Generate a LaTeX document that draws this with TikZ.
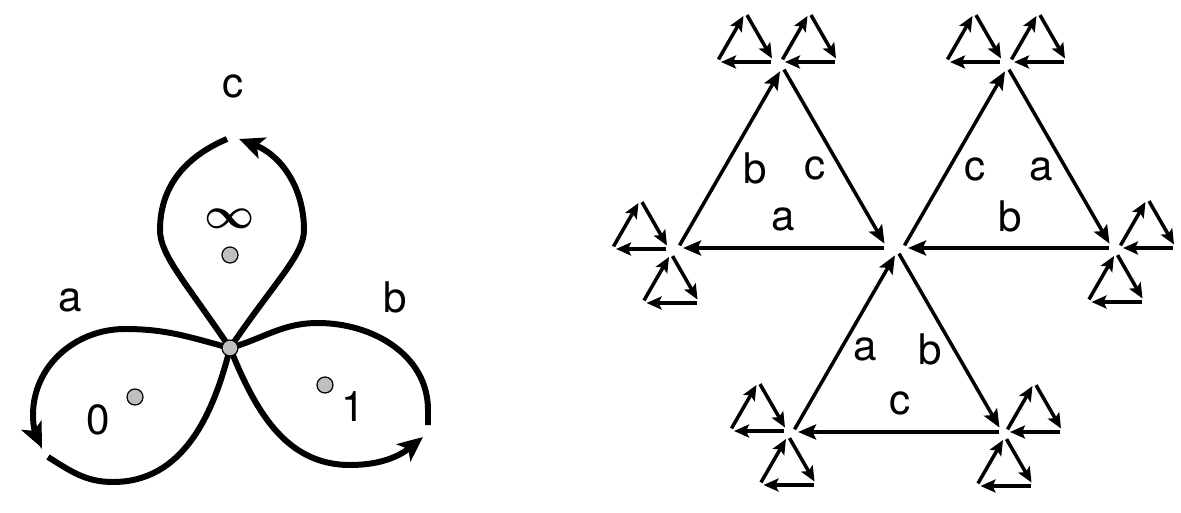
\documentclass[tikz,border=0pt]{standalone}
\usepackage{fontspec}
\usepackage{bm}
\setmainfont{TeX Gyre Heros}
\usetikzlibrary{arrows.meta}

\tikzset{
  lbl/.style={font=\fontsize{24}{28}\selectfont, inner sep=0pt},
  loopline/.style={line width=3.4pt},
  looparrow/.style={loopline, -{Stealth[length=0.5cm,width=0.44cm,inset=0.12cm]}},
  puncture/.style={circle, draw, fill=black!25, line width=0.7pt, minimum size=0.32cm, inner sep=0pt},
  bigarr/.style={line width=2pt, -{Stealth[length=0.36cm,width=0.3cm,inset=0.07cm]}, shorten <=0.06cm, shorten >=0.1cm},
  smallarr/.style={line width=2pt, -{Stealth[length=0.3cm,width=0.26cm,inset=0.06cm]}, shorten <=0.06cm, shorten >=0.08cm}
}

\begin{document}
\begin{tikzpicture}
\useasboundingbox (0,0) rectangle (23.62,10.24);

% loops round 0, 1 and infinity
\coordinate (O) at (4.60,3.28);
\draw[looparrow] (O) to[out=56,in=-90,out distance=1.6cm,in distance=0.5cm] (6.08,5.64) to[out=90,in=-21] (4.78,7.46);
\draw[loopline] (O) to[out=124,in=-90,out distance=1.6cm,in distance=0.5cm] (3.20,5.64) to[out=90,in=203] (4.54,7.46);
\draw[looparrow] (O) to[out=165,in=0] (2.50,3.66) to[out=180,in=90] (0.66,1.94) to[out=-90,in=115] (0.84,1.28);
\draw[loopline] (O) to[out=-104,in=0] (2.26,0.60) to[out=180,in=-32] (0.96,1.10);
\draw[loopline] (O) to[out=16,in=180] (6.36,3.78) to[out=0,in=90] (8.56,2.04) -- (8.56,1.74);
\draw[looparrow] (O) to[out=-68,in=180] (7.00,0.94) to[out=0,in=219] (8.46,1.50);

\node[puncture] (base) at (O) {};
\node[puncture] (pinf) at (4.60,5.14) {};
\node[puncture] (pzero) at (2.70,2.30) {};
\node[puncture] (pone) at (6.50,2.54) {};

\node[lbl] (lc) at (4.67,8.52) {c};
\node[lbl] (la) at (1.40,4.24) {a};
\node[lbl] (lb) at (7.90,4.30) {b};
\node[lbl] (linf) at (4.60,5.86) {$\bm{\infty}$};
\node[lbl] (lzero) at (1.97,1.84) {0};
\node[lbl] (lone) at (7.07,2.10) {1};

% big triangles
\coordinate (tlL) at (13.56,5.28);
\coordinate (tlT) at (15.65,8.90);
\coordinate (tlR) at (17.74,5.28);
\draw[bigarr] (tlL) -- (tlT);
\draw[bigarr] (tlT) -- (tlR);
\draw[bigarr] (tlR) -- (tlL);
\node[lbl] (tlb) at (15.10,6.88) {b};
\node[lbl] (tlc) at (16.30,6.88) {c};
\node[lbl] (tla) at (15.66,5.86) {a};

\coordinate (trL) at (18.06,5.28);
\coordinate (trT) at (20.15,8.90);
\coordinate (trR) at (22.24,5.28);
\draw[bigarr] (trL) -- (trT);
\draw[bigarr] (trT) -- (trR);
\draw[bigarr] (trR) -- (trL);
\node[lbl] (trc) at (19.50,6.86) {c};
\node[lbl] (tra) at (20.83,6.86) {a};
\node[lbl] (trb) at (20.20,5.91) {b};

\coordinate (btL) at (15.86,1.60);
\coordinate (btT) at (17.95,5.22);
\coordinate (btR) at (20.04,1.60);
\draw[bigarr] (btL) -- (btT);
\draw[bigarr] (btT) -- (btR);
\draw[bigarr] (btR) -- (btL);
\node[lbl] (bta) at (17.30,3.26) {a};
\node[lbl] (btb) at (18.60,3.26) {b};
\node[lbl] (btc) at (18.00,2.18) {c};

% small triangles at the outer corners
\foreach \n/\x/\y in {1/14.34/9.00, 2/15.62/9.00, 3/12.24/5.26, 4/12.85/4.18,
                      5/18.92/9.00, 6/20.20/9.00, 7/22.38/5.28, 8/21.75/4.20,
                      9/14.60/1.62, 10/15.19/0.54, 11/20.12/1.60, 12/19.53/0.52} {
  \coordinate (s\n L) at (\x,\y);
  \coordinate (s\n T) at ([shift={(0.57,0.99)}]s\n L);
  \coordinate (s\n R) at ([shift={(1.14,0)}]s\n L);
  \draw[smallarr] (s\n L) -- (s\n T);
  \draw[smallarr] (s\n T) -- (s\n R);
  \draw[smallarr] (s\n R) -- (s\n L);
}
\end{tikzpicture}
\end{document}
